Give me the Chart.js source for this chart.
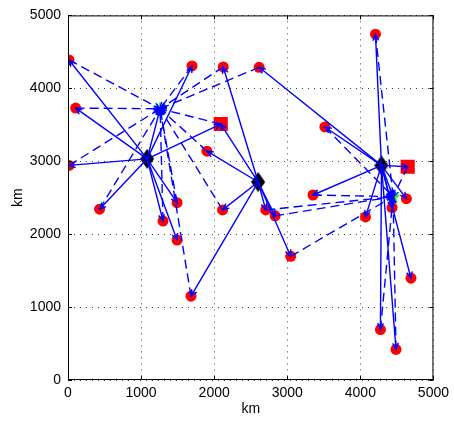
<!DOCTYPE html>
<html>
<head>
<meta charset="utf-8">
<script src="https://cdn.jsdelivr.net/npm/chart.js@4.4.1/dist/chart.umd.min.js"></script>
<style>
  html, body { margin: 0; padding: 0; background: #fff; }
  #wrap { width: 454px; height: 421px; }
</style>
</head>
<body>
<div id="wrap"><canvas id="chart" width="454" height="421"></canvas></div>
<script>
// customers (red circles)
const custX = [14, 105, 14, 432, 1697, 2124, 2615, 1901, 1492, 1300, 1492, 1683, 2115,
  3352, 2706, 2834, 3047, 4071, 4434, 4630, 4693, 4275, 4488, 4207, 3515];
const custY = [4389, 3729, 2943, 2342, 4307, 4293, 4288, 3138, 2432, 2180, 1920, 1150, 2333,
  2537, 2333, 2251, 1696, 2237, 2364, 2487, 1396, 692, 419, 4743, 3470];
// red squares
const depotX = [2090, 4648];
const depotY = [3510, 2924];
// black diamonds
const hubX = [1083, 2602, 4289];
const hubY = [3033, 2715, 2943];
// green stars
const satX = [1260, 4448];
const satY = [3720, 2514];

const ticks = [0, 1000, 2000, 3000, 4000, 5000];

// solid arrows: [from, to]
const solidLinks = [
  ["h0", "c0"], ["h0", "c1"], ["h0", "c2"], ["h0", "c3"], ["h0", "c4"], ["h0", "c8"],
  ["h0", "c9"], ["h0", "c10"], ["h0", "d0"], ["h0", "s0"],
  ["h1", "c5"], ["h1", "c7"], ["h1", "c11"], ["h1", "c12"], ["h1", "c14"], ["h1", "c15"],
  ["h1", "c16"], ["h1", "d0"],
  ["h2", "c6"], ["h2", "c13"], ["h2", "c17"], ["h2", "c18"], ["h2", "c19"], ["h2", "c20"],
  ["h2", "c21"], ["h2", "c22"], ["h2", "c23"], ["h2", "c24"], ["h2", "d1"], ["h2", "s1"]
];
// dashed arrows: [from, to]
const dashedLinks = [
  ["c0", "s0"], ["c1", "s0"], ["c2", "s0"], ["c3", "s0"], ["c4", "s0"], ["c5", "s0"],
  ["c6", "s0"], ["c7", "s0"], ["c8", "s0"], ["c9", "s0"], ["c11", "s0"], ["c12", "s0"],
  ["d0", "s0"],
  ["c13", "s1"], ["c14", "s1"], ["c15", "s1"], ["c16", "s1"], ["c21", "s1"], ["c22", "s1"],
  ["c23", "s1"], ["c24", "s1"], ["d1", "s1"]
];

function node(key) {
  const i = parseInt(key.slice(1), 10);
  if (key[0] === "c") return { x: custX[i], y: custY[i] };
  if (key[0] === "d") return { x: depotX[i], y: depotY[i] };
  if (key[0] === "h") return { x: hubX[i], y: hubY[i] };
  return { x: satX[i], y: satY[i] };
}
const pts = (xs, ys) => xs.map((x, i) => ({ x, y: ys[i] }));

function makeDiamond() {
  const c = document.createElement("canvas");
  c.width = 14; c.height = 20;
  const g = c.getContext("2d");
  g.fillStyle = "#000";
  g.beginPath();
  g.moveTo(7, 0); g.lineTo(14, 10); g.lineTo(7, 20); g.lineTo(0, 10);
  g.closePath(); g.fill();
  return c;
}
function makeStar() {
  const c = document.createElement("canvas");
  c.width = 16; c.height = 16;
  const g = c.getContext("2d");
  g.fillStyle = "#00ff00";
  g.beginPath();
  for (let k = 0; k < 10; k++) {
    const r = k % 2 ? 3.2 : 8;
    const a = -Math.PI / 2 + k * Math.PI / 5;
    g.lineTo(8 + r * Math.cos(a), 8.5 + r * Math.sin(a));
  }
  g.closePath(); g.fill();
  return c;
}

const blue = "#0000ff";
const datasets = [];
solidLinks.forEach(([a, b]) => {
  datasets.push({ data: [node(a), node(b)], showLine: true, borderColor: blue, borderWidth: 1.4,
    pointRadius: 0, arrow: true, order: 1 });
});
dashedLinks.forEach(([a, b]) => {
  datasets.push({ data: [node(a), node(b)], showLine: true, borderColor: blue, borderWidth: 1.4,
    borderDash: [9, 5], pointRadius: 0, arrow: true, order: 1 });
});
datasets.push({ data: pts(custX, custY), pointStyle: "circle", pointRadius: 5.5,
  backgroundColor: "#ff0000", borderWidth: 0, order: 2 });
datasets.push({ data: pts(depotX, depotY), pointStyle: "rect", pointRadius: 10,
  backgroundColor: "#ff0000", borderWidth: 0, order: 2 });
datasets.push({ data: pts(hubX, hubY), pointStyle: makeDiamond(), order: 2 });
datasets.push({ data: pts(satX, satY), pointStyle: makeStar(), order: 2 });

const arrowHeads = {
  id: "arrowHeads",
  afterDatasetsDraw(chart) {
    const ctx = chart.ctx;
    ctx.save();
    ctx.strokeStyle = blue;
    ctx.lineWidth = 1.4;
    ctx.setLineDash([]);
    chart.data.datasets.forEach((ds, i) => {
      if (!ds.arrow) return;
      const m = chart.getDatasetMeta(i).data;
      const p0 = m[0], p1 = m[1];
      const ang = Math.atan2(p1.y - p0.y, p1.x - p0.x);
      const len = 7, spread = 0.42;
      ctx.beginPath();
      ctx.moveTo(p1.x - len * Math.cos(ang - spread), p1.y - len * Math.sin(ang - spread));
      ctx.lineTo(p1.x, p1.y);
      ctx.lineTo(p1.x - len * Math.cos(ang + spread), p1.y - len * Math.sin(ang + spread));
      ctx.stroke();
    });
    ctx.restore();
  }
};

const axesBox = {
  id: "axesBox",
  afterDraw(chart) {
    const { ctx, chartArea: a, scales } = chart;
    ctx.save();
    ctx.strokeStyle = "#000";
    ctx.lineWidth = 1;
    ctx.strokeRect(a.left + 0.5, a.top + 0.5, a.right - a.left - 1, a.bottom - a.top - 1);
    ctx.beginPath();
    ticks.forEach(v => {
      const x = Math.round(scales.x.getPixelForValue(v)) + 0.5;
      const y = Math.round(scales.y.getPixelForValue(v)) + 0.5;
      ctx.moveTo(x, a.bottom); ctx.lineTo(x, a.bottom - 4);
      ctx.moveTo(x, a.top); ctx.lineTo(x, a.top + 4);
      ctx.moveTo(a.left, y); ctx.lineTo(a.left + 4, y);
      ctx.moveTo(a.right, y); ctx.lineTo(a.right - 4, y);
    });
    ctx.stroke();
    ctx.restore();
  }
};

const font = { family: "'Liberation Sans', Arial, sans-serif", size: 14 };
const axis = (title) => ({
  type: "linear",
  min: 0, max: 5000,
  afterBuildTicks: s => { s.ticks = ticks.map(v => ({ value: v })); },
  ticks: { color: "#000", font, padding: 5, maxRotation: 0, callback: v => String(v) },
  grid: { color: "#444", lineWidth: 1, drawTicks: false },
  border: { display: false, dash: [1, 5] },
  title: { display: true, text: title, color: "#000", font }
});

const xAxis = axis("km");
xAxis.title.padding = { top: 0, bottom: 3 };
xAxis.afterFit = s => { s.height = 41; };
const yAxis = axis("km");
yAxis.ticks.padding = 7;
yAxis.title.padding = { top: 10, bottom: 0 };
yAxis.afterFit = s => { s.width = 68; };

new Chart(document.getElementById("chart"), {
  type: "scatter",
  data: { datasets },
  options: {
    responsive: false,
    animation: false,
    layout: { padding: { left: 0, top: 14, right: 19, bottom: 0 } },
    plugins: { legend: { display: false }, tooltip: { enabled: false } },
    scales: { x: xAxis, y: yAxis }
  },
  plugins: [arrowHeads, axesBox]
});
</script>
</body>
</html>
